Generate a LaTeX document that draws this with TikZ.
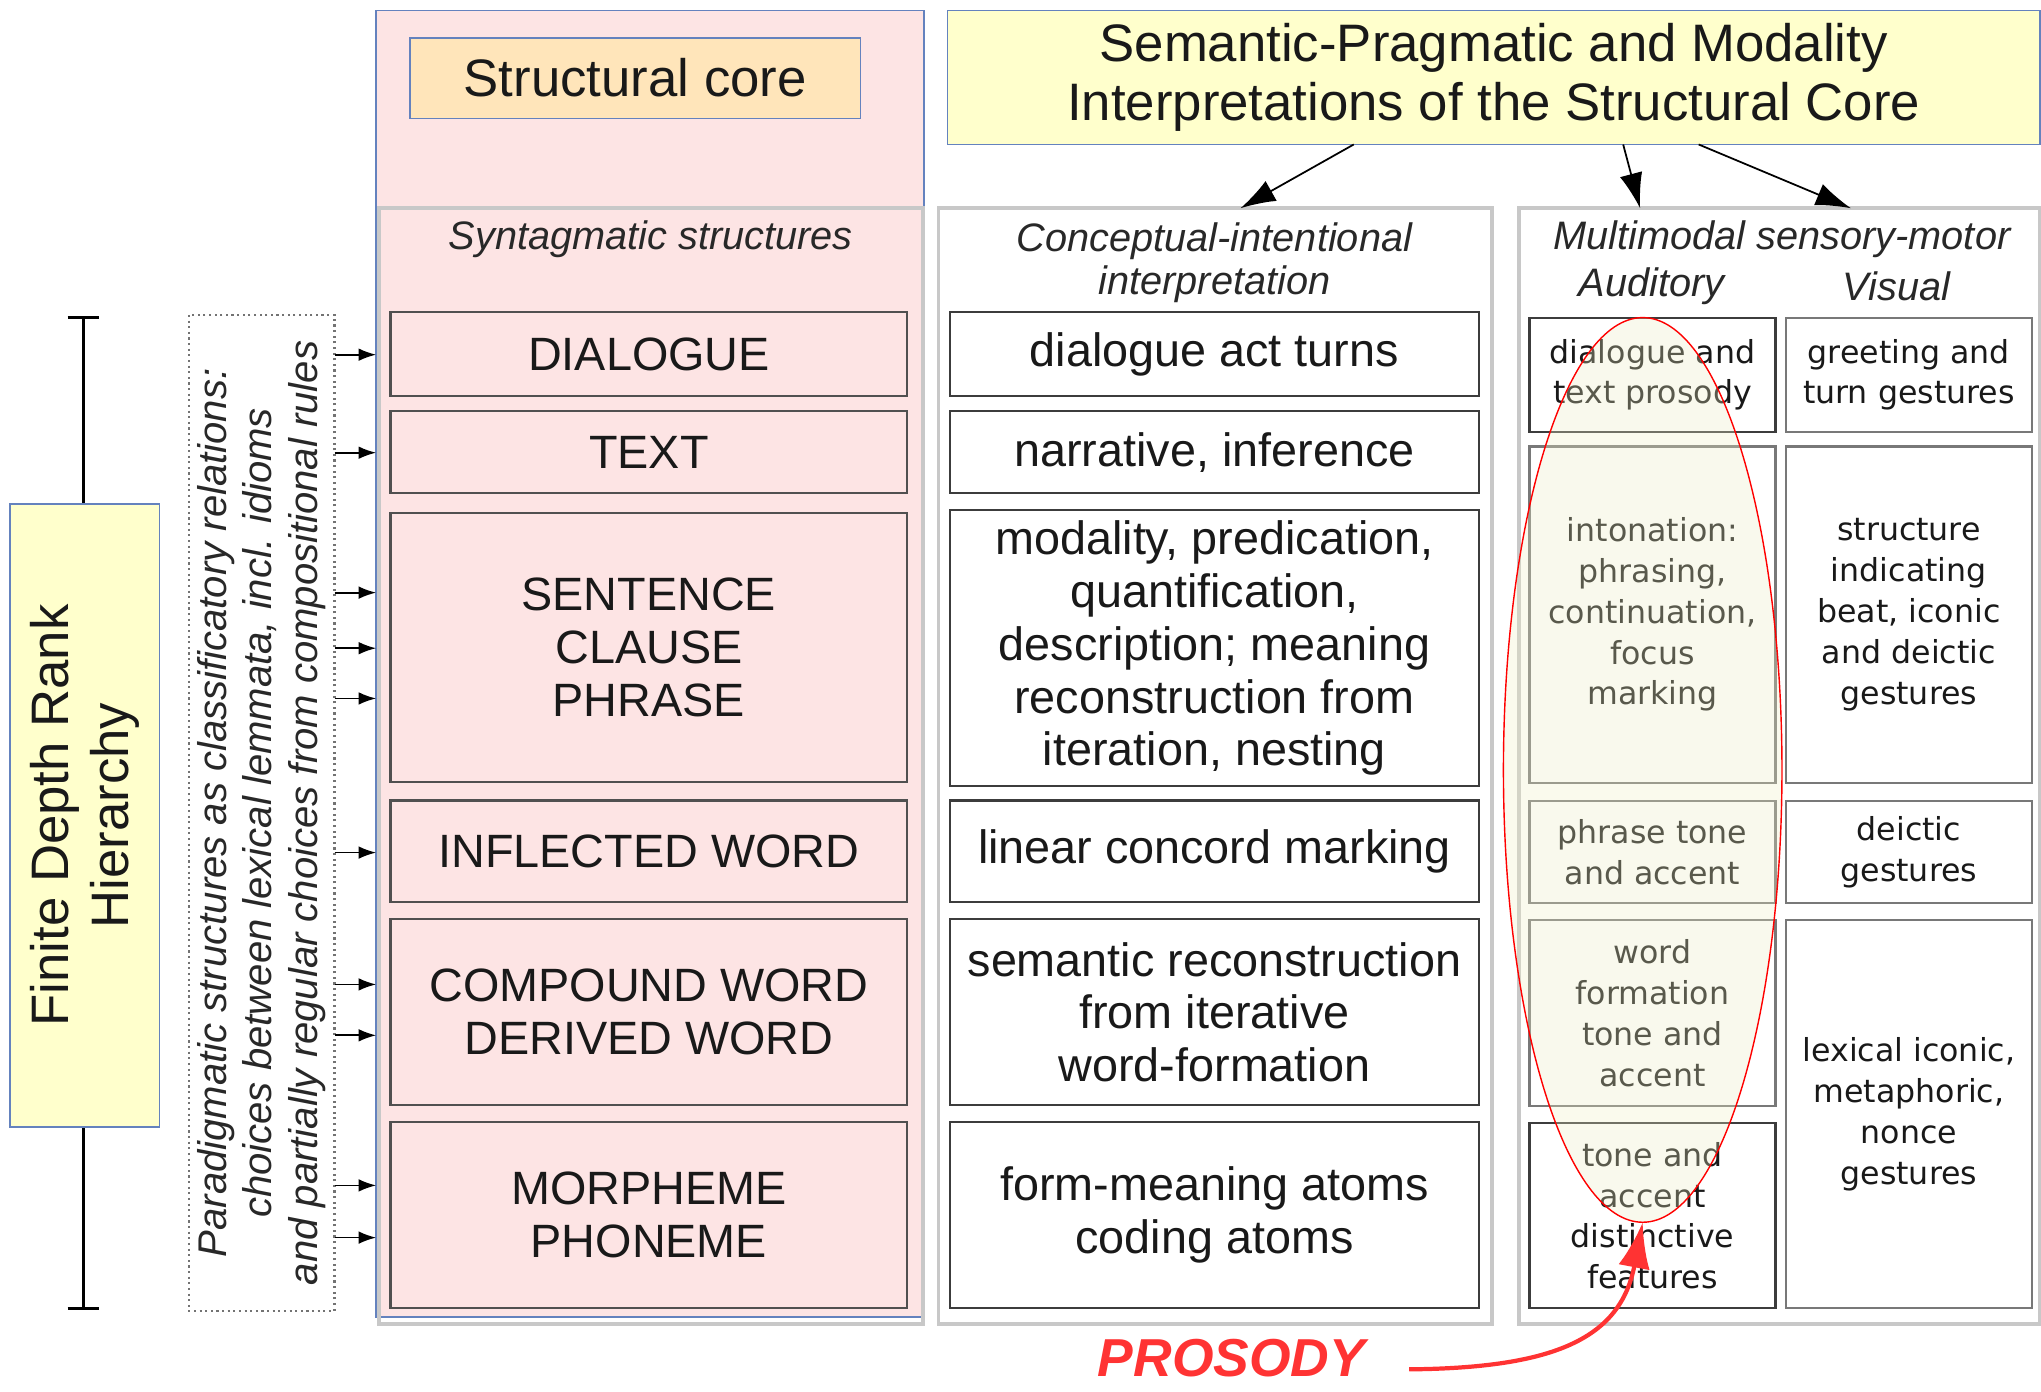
\documentclass[tikz,border=0pt]{standalone}
\usepackage{fontspec}
\setmainfont{Liberation Sans}
\newfontfamily\dejavu{DejaVu Sans}
\usetikzlibrary{arrows.meta,shapes.geometric}
\def\U{0.013017cm}
\definecolor{pinkbg}{RGB}{253,228,228}
\definecolor{corebg}{RGB}{255,229,186}
\definecolor{yel}{RGB}{255,255,204}
\definecolor{blueb}{RGB}{100,130,190}
\definecolor{cellbA}{RGB}{80,80,80}
\definecolor{cellbB}{RGB}{60,60,60}
\definecolor{cellbC}{RGB}{120,120,120}
\definecolor{colb}{RGB}{200,200,200}
\definecolor{cream}{RGB}{238,238,196}
\definecolor{pred}{RGB}{255,51,51}
\definecolor{txt}{RGB}{25,25,25}
\definecolor{hdtxt}{RGB}{40,40,40}
\newcommand\bigf{\fontsize{13.3}{15}\selectfont}
\newcommand\hdf{\itshape\fontsize{11.3}{12.2}\selectfont}
\newcommand\smf{\dejavu\fontsize{9}{11.6}\selectfont}
\newcommand\parf{\itshape\fontsize{11.4}{13}\selectfont}
\newcommand\ttlf{\fontsize{15}{16.7}\selectfont}
\newcommand\bx[7]{\node[#6, minimum width={(#4-#2)*\U}, minimum height={(#5-#3)*\U}] (#1) at ({(#2+#4)/2},{(#3+#5)/2}) {#7};}
\begin{document}
\begin{tikzpicture}[x=\U,y=-\U,
  every node/.style={inner sep=0pt, outer sep=0pt, text=txt},
  cellA/.style={draw=cellbA, fill=pinkbg, line width=0.6pt, align=center, font=\bigf},
  cellB/.style={draw=cellbB, fill=white, line width=0.6pt, align=center, font=\bigf},
  cellC/.style={draw=cellbC, fill=white, line width=0.6pt, align=center, font=\smf},
  cellD/.style={draw=cellbB, fill=white, line width=0.6pt, align=center, font=\smf},
  colbox/.style={draw=colb, line width=1.1pt},
  hdr/.style={font=\hdf, text=hdtxt, align=center},
  yelbox/.style={draw=blueb, fill=yel, line width=0.5pt, align=center},
  parArrow/.style={-{Latex[length=5pt,width=3.6pt]}, line width=0.5pt},
  topArrow/.style={-{Latex[length=10pt,width=6.5pt]}, line width=0.5pt},
  prosArrow/.style={draw=pred, line width=1.2pt, -{Latex[length=13pt,width=9pt]}}]
\useasboundingbox (0,0) rectangle (1568,1069);
% bracket
\coordinate (brt) at (64,244);
\coordinate (brb) at (64,1005);
\draw[line width=0.8pt] (brt) -- (brb);
\draw[line width=0.8pt] ([xshift=-12*\U]brt) -- ([xshift=12*\U]brt);
\draw[line width=0.8pt] ([xshift=-12*\U]brb) -- ([xshift=12*\U]brb);
% hierarchy box
\node[yelbox, rotate=90, minimum width={479*\U}, minimum height={115*\U}, font=\fontsize{15}{17}\selectfont] (fdrh) at (65,626.5) {Finite Depth Rank\\Hierarchy};
% paradigmatic box
\node[draw=black!55, densely dotted, line width=0.6pt, rotate=90, minimum width={765*\U}, minimum height={112*\U}, font=\parf, align=center, text=hdtxt] (para) at (201,624.5) {Paradigmatic structures as classificatory relations:\\choices between lexical lemmata, incl. idioms\\and partially regular choices from compositional rules};
% core
\bx{core}{289}{8}{710}{1012}{fill=pinkbg, draw=blueb, line width=0.5pt}{}
\bx{corelab}{315}{29}{661}{91}{fill=corebg, draw=blueb, line width=0.5pt, font=\ttlf}{Structural core}
% title
\bx{title}{728}{8}{1567}{111}{yelbox, font=\ttlf}{Semantic-Pragmatic and Modality\\Interpretations of the Structural Core}
% column boxes
\bx{syn}{291}{160}{709}{1017}{colbox}{}
\bx{conc}{721}{160}{1146}{1017}{colbox}{}
\bx{mm}{1167}{160}{1567}{1017}{colbox}{}
% headers
\node[hdr] (synh) at (500,184) {Syntagmatic structures};
\node[hdr] (conch) at (933,202) {Conceptual-intentional\\interpretation};
\node[hdr] (mmh) at (1369,184) {Multimodal sensory-motor};
\node[hdr] (audh) at (1269,220) {Auditory};
\node[hdr] (vish) at (1457,220) {Visual};
% column 1
\bx{s1}{300}{240}{697}{304}{cellA}{DIALOGUE}
\bx{s2}{300}{316}{697}{379}{cellA}{TEXT}
\bx{s3}{300}{394}{697}{601}{cellA}{SENTENCE\\CLAUSE\\PHRASE}
\bx{s4}{300}{615}{697}{693}{cellA}{INFLECTED WORD}
\bx{s5}{300}{706}{697}{849}{cellA}{COMPOUND WORD\\DERIVED WORD}
\bx{s6}{300}{862}{697}{1005}{cellA}{MORPHEME\\PHONEME}
% column 2
\bx{c1}{730}{240}{1136}{304}{cellB}{dialogue act turns}
\bx{c2}{730}{316}{1136}{379}{cellB}{narrative, inference}
\bx{c3}{730}{392}{1136}{604}{cellB}{modality, predication,\\quantification,\\description; meaning\\reconstruction from\\iteration, nesting}
\bx{c4}{730}{615}{1136}{693}{cellB}{linear concord marking}
\bx{c5}{730}{706}{1136}{849}{cellB}{semantic reconstruction\\from iterative\\word-formation}
\bx{c6}{730}{862}{1136}{1005}{cellB}{form-meaning atoms\\coding atoms}
% column 3 auditory
\bx{a1}{1175}{244}{1364}{332}{cellD}{dialogue and\\text prosody}
\bx{a2}{1175}{343}{1364}{601.5}{cellC}{intonation:\\phrasing,\\continuation,\\focus\\marking}
\bx{a3}{1175}{615.5}{1364}{694}{cellC}{phrase tone\\and accent}
\bx{a4}{1175}{707}{1364}{849.7}{cellC}{word\\formation\\tone and\\accent}
\bx{a5}{1175}{863}{1364}{1005}{cellD}{tone and\\accent\\distinctive\\features}
% column 4 visual
\bx{v1}{1372}{244}{1561}{332}{cellC}{greeting and\\turn gestures}
\bx{v2}{1372}{343}{1561}{601.5}{cellC}{structure\\indicating\\beat, iconic\\and deictic\\gestures}
\bx{v3}{1372}{615.5}{1561}{694}{cellC}{deictic\\gestures}
\bx{v4}{1372}{707}{1561}{1005}{cellC}{lexical iconic,\\metaphoric,\\nonce\\gestures}
% ellipse
\node[ellipse, draw=red, line width=0.4pt, fill=cream, fill opacity=0.3, minimum width={214*\U}, minimum height={695*\U}] (ell) at (1262,591.5) {};
% paradigmatic arrows
\foreach \yy in {272.5,347.8,455.3,498,536.6,655,756.3,795.4,910.7,950.8}
  \draw[parArrow] (para.south |- 0,\yy) -- (core.west |- 0,\yy);
% top arrows
\draw[topArrow] (title.south -| 1040,0) -- (conc.north -| 953,0);
\draw[topArrow] (title.south -| 1247,0) -- (mm.north -| 1260,0);
\draw[topArrow] (title.south -| 1305,0) -- (mm.north -| 1422,0);
% prosody
\node[font=\bfseries\itshape\fontsize{15.2}{16}\selectfont, text=pred] (pros) at (946,1043) {PROSODY};
\draw[prosArrow] ([xshift=34*\U, yshift=-9*\U]pros.east) .. controls (1195,1051) and (1245,1028) .. (ell.south);
\end{tikzpicture}
\end{document}
